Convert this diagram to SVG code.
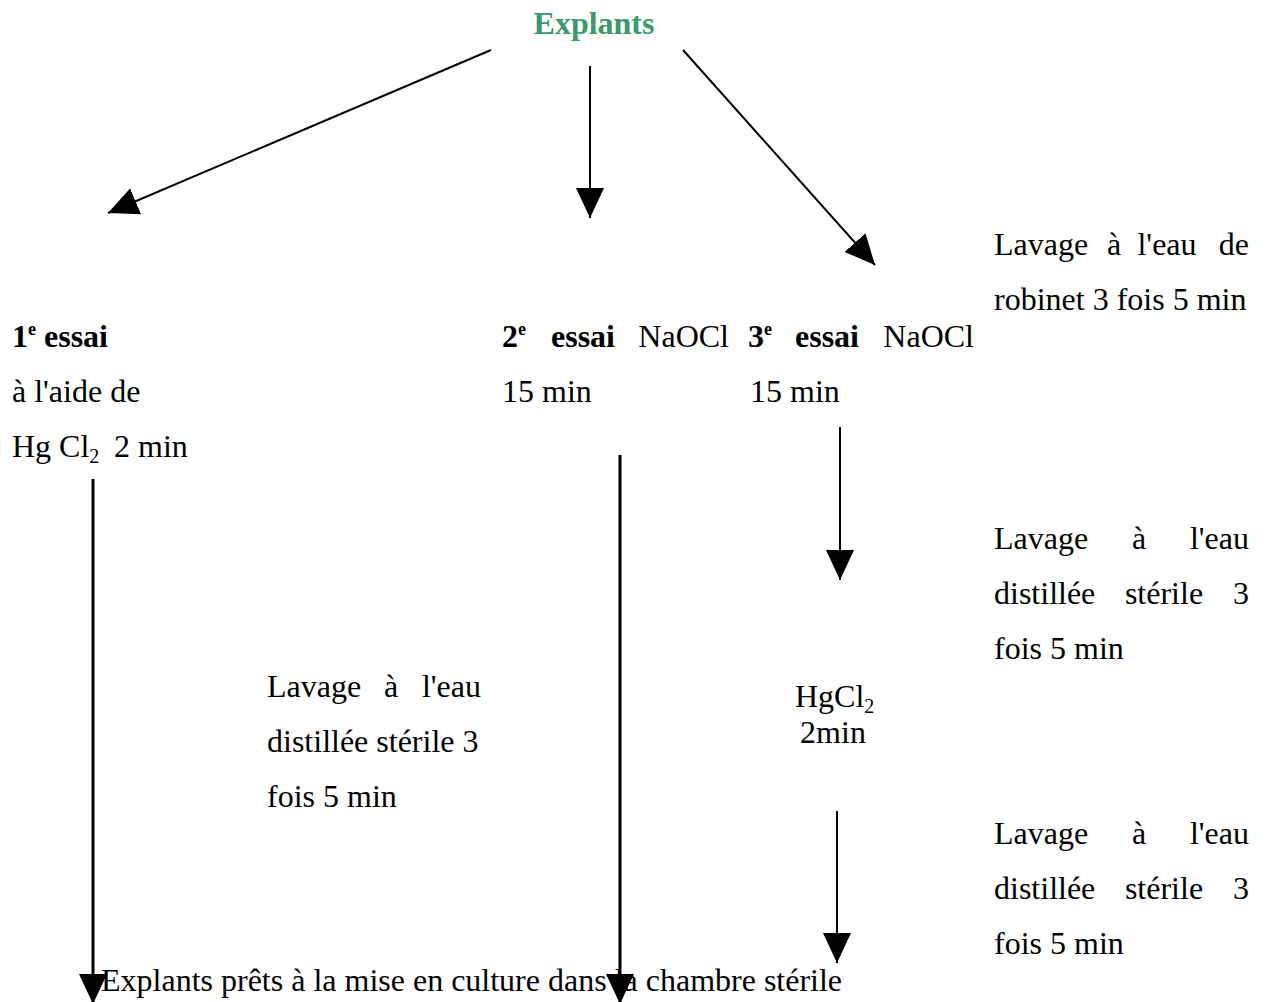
<svg xmlns="http://www.w3.org/2000/svg" width="1267" height="1002" viewBox="0 0 1267 1002">
<style>
text{font-family:"Liberation Serif","Times New Roman",serif;font-size:32px;fill:#000}
.b{font-weight:bold}
.sup{font-size:18px}
.sub{font-size:20px}
.title{font-weight:bold;fill:#3a9a6a;font-size:32px}
.c{stroke:#000;stroke-width:2;fill:none}
.t{stroke:#000;stroke-width:3;fill:none}
</style>
<defs>
<marker id="ah" markerUnits="userSpaceOnUse" markerWidth="32" markerHeight="28" refX="30" refY="14" orient="auto">
<path d="M0,0 L30,14 L0,28 Z" fill="#000"/>
</marker>
</defs>
<rect width="1267" height="1002" fill="#fff"/>
<g id="connectors">
<line class="c" x1="491" y1="50" x2="108" y2="213" marker-end="url(#ah)"/>
<line class="c" x1="590" y1="66" x2="590" y2="218" marker-end="url(#ah)"/>
<line class="c" x1="683" y1="50" x2="875" y2="265" marker-end="url(#ah)"/>
<line class="c" x1="840" y1="427" x2="840" y2="580" marker-end="url(#ah)"/>
<line class="c" x1="837" y1="811" x2="837" y2="963" marker-end="url(#ah)"/>
<line class="t" x1="93" y1="479" x2="93" y2="1004" marker-end="url(#ah)"/>
<line class="t" x1="620" y1="455" x2="620" y2="1004" marker-end="url(#ah)"/>
</g>
<g id="explants"><text class="title" x="594" y="34" text-anchor="middle">Explants</text></g>
<g id="essai1">
<text x="12" y="347"><tspan class="b">1</tspan><tspan class="sup b" dy="-12">e</tspan><tspan class="b" dy="12"> essai</tspan></text>
<text x="12" y="402">à l'aide de</text>
<text x="12" y="457">Hg Cl<tspan class="sub" dy="6">2</tspan></text>
<text x="114" y="457">2 min</text>
</g>
<g id="essai2">
<text x="502" y="347"><tspan class="b">2</tspan><tspan class="sup b" dy="-12">e</tspan></text>
<text x="551" y="347" class="b">essai</text>
<text x="729" y="347" text-anchor="end">NaOCl</text>
<text x="502" y="402">15 min</text>
</g>
<g id="essai3">
<text x="748" y="347"><tspan class="b">3</tspan><tspan class="sup b" dy="-12">e</tspan></text>
<text x="795" y="347" class="b">essai</text>
<text x="974" y="347" text-anchor="end">NaOCl</text>
<text x="750" y="402">15 min</text>
</g>
<g id="lavage-robinet">
<text x="994" y="255">Lavage</text>
<text x="1114" y="255" text-anchor="middle">à</text>
<text x="1167" y="255" text-anchor="middle">l'eau</text>
<text x="1249" y="255" text-anchor="end">de</text>
<text x="994" y="310">robinet 3 fois 5 min</text>
</g>
<g id="lavage-distillee-1">
<text x="994" y="549">Lavage</text>
<text x="1139" y="549" text-anchor="middle">à</text>
<text x="1249" y="549" text-anchor="end">l'eau</text>
<text x="994" y="604">distillée</text>
<text x="1164" y="604" text-anchor="middle">stérile</text>
<text x="1249" y="604" text-anchor="end">3</text>
<text x="994" y="659">fois 5 min</text>
</g>
<g id="lavage-distillee-left">
<text x="267" y="697">Lavage</text>
<text x="391" y="697" text-anchor="middle">à</text>
<text x="481" y="697" text-anchor="end">l'eau</text>
<text x="267" y="752">distillée stérile 3</text>
<text x="267" y="807">fois 5 min</text>
</g>
<g id="hgcl2">
<text x="795" y="707">HgCl<tspan class="sub" dy="6">2</tspan></text>
<text x="833" y="743" text-anchor="middle">2min</text>
</g>
<g id="lavage-distillee-2">
<text x="994" y="844">Lavage</text>
<text x="1139" y="844" text-anchor="middle">à</text>
<text x="1249" y="844" text-anchor="end">l'eau</text>
<text x="994" y="899">distillée</text>
<text x="1164" y="899" text-anchor="middle">stérile</text>
<text x="1249" y="899" text-anchor="end">3</text>
<text x="994" y="954">fois 5 min</text>
</g>
<g id="final"><text x="101" y="991">Explants prêts à la mise en culture dans la chambre stérile</text></g>
</svg>
